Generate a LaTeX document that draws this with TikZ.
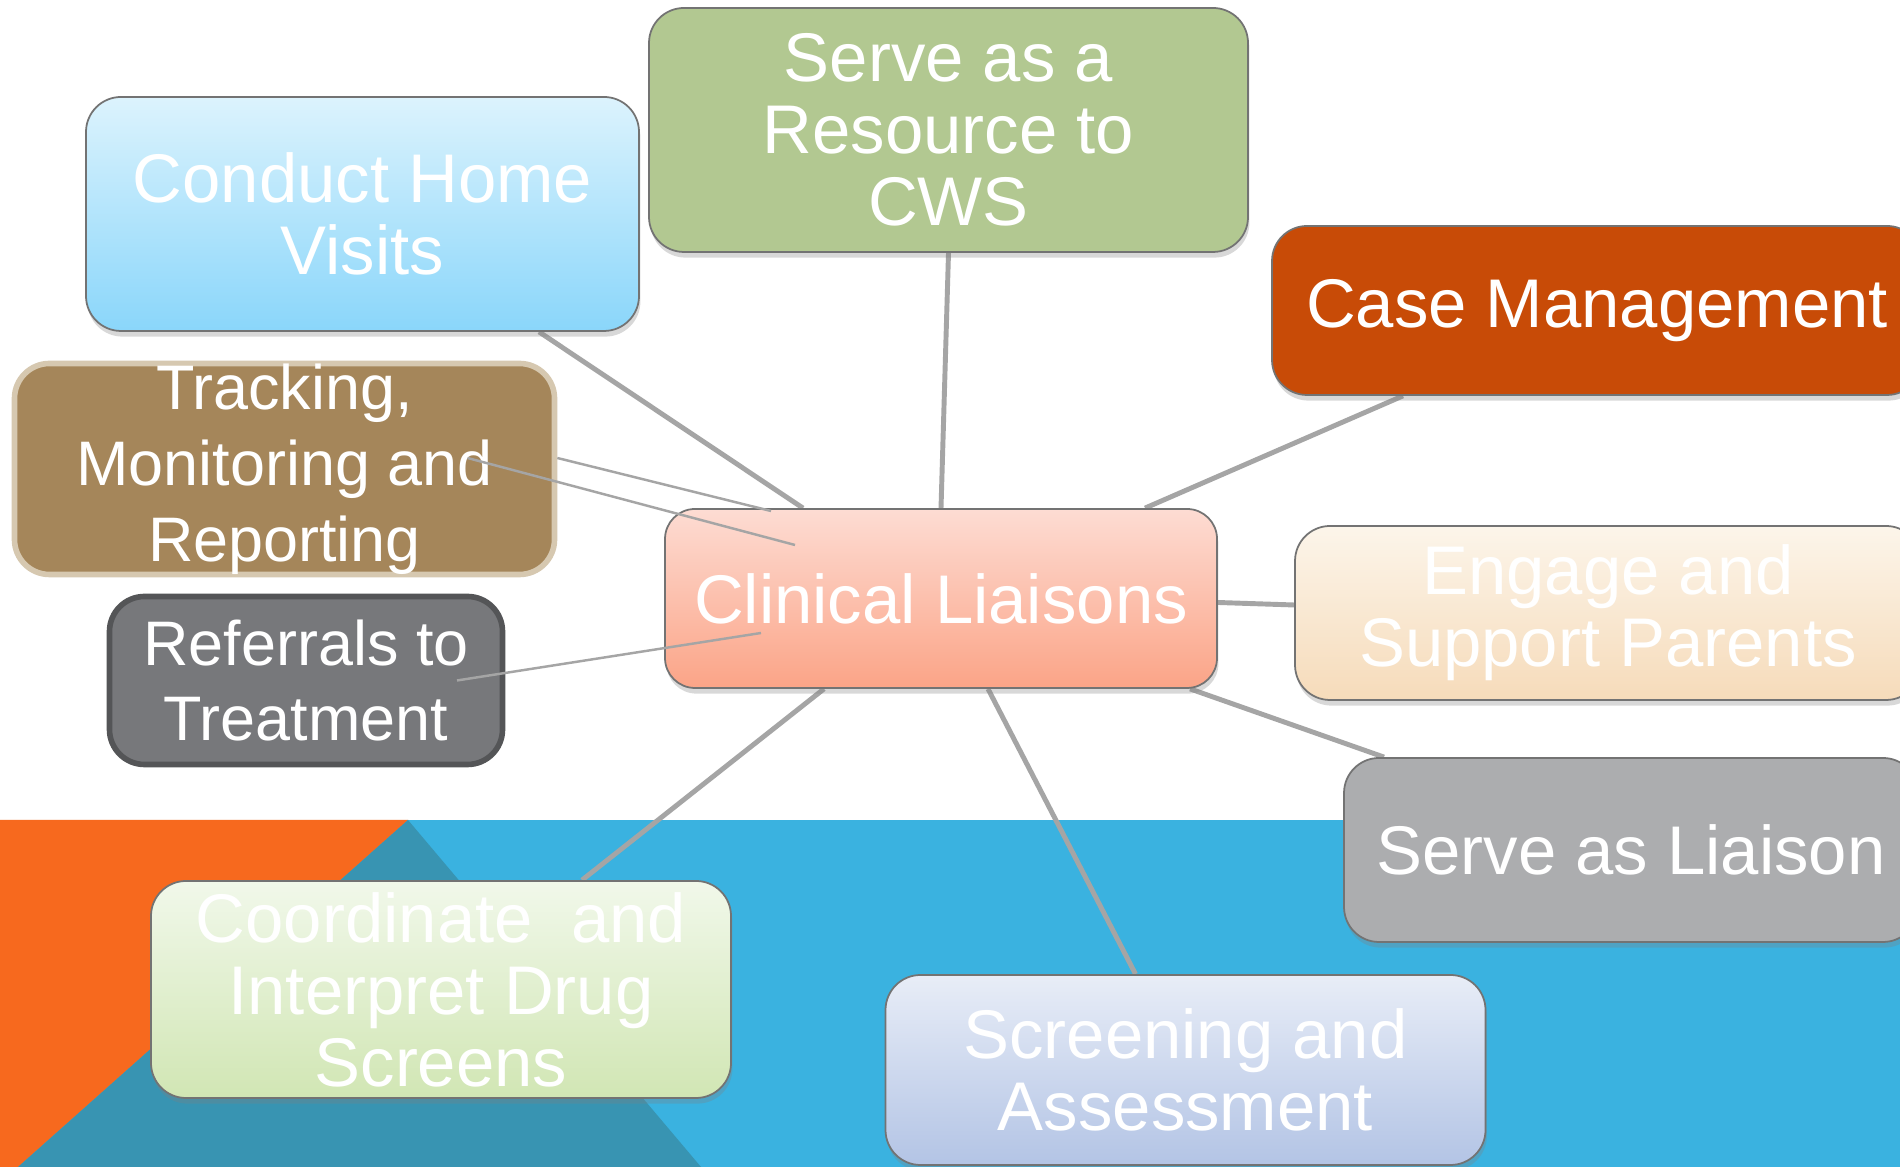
\documentclass[tikz,border=0pt]{standalone}
\usepackage{fontspec}
\setmainfont{Liberation Sans}
\usetikzlibrary{shadows,backgrounds}

\definecolor{bandorange}{HTML}{F7691E}
\definecolor{bandteal}{HTML}{3894B2}
\definecolor{bandblue}{HTML}{3AB2E0}
\definecolor{linkgray}{HTML}{A5A5A5}
\definecolor{homeTop}{HTML}{DCF3FD}
\definecolor{homeBot}{HTML}{8AD6FA}
\definecolor{resFill}{HTML}{B2C891}
\definecolor{caseFill}{HTML}{C84B07}
\definecolor{trackFill}{HTML}{A5865A}
\definecolor{trackLine}{HTML}{D6C8B0}
\definecolor{referFill}{HTML}{77787B}
\definecolor{referLine}{HTML}{545557}
\definecolor{clinTop}{HTML}{FDDCD3}
\definecolor{clinBot}{HTML}{FBA487}
\definecolor{engTop}{HTML}{FCF5EA}
\definecolor{engBot}{HTML}{F6DBBA}
\definecolor{liaiFill}{HTML}{ACADAF}
\definecolor{coordTop}{HTML}{F1F8EA}
\definecolor{coordBot}{HTML}{D1E6B4}
\definecolor{scrTop}{HTML}{E8EDF7}
\definecolor{scrBot}{HTML}{B3C4E5}

\begin{document}
\begin{tikzpicture}[
    box/.style={rounded corners=0.35cm, inner sep=0pt, align=center, text=white,
      font={\fontsize{19.6}{20.5}\selectfont}},
    lifted/.style={draw=black!55, line width=0.5pt,
      drop shadow={shadow xshift=0.4pt, shadow yshift=-1.6pt, opacity=0.3}},
    link/.style={draw=linkgray, line width=1.4pt},
    hairlink/.style={draw=linkgray, line width=0.7pt}
  ]
  \useasboundingbox (0,0) rectangle (19,11.67);

  % boxes
  \node[box, lifted, top color=homeTop, bottom color=homeBot, minimum width=5.53cm, minimum height=2.34cm] (home) at (3.625,9.53) {Conduct Home\\Visits};
  \node[box, lifted, fill=resFill, minimum width=5.99cm, minimum height=2.44cm] (res) at (9.485,10.37) {Serve as a\\Resource to\\CWS};
  \node[box, lifted, fill=caseFill, minimum width=6.5cm, minimum height=1.69cm] (case) at (15.97,8.565) {Case Management};
  \node[box, fill=trackFill, draw=trackLine, line width=1.6pt, minimum width=5.4cm, minimum height=2.11cm,
    font={\fontsize{17.9}{21.6}\selectfont}] (track) at (2.845,6.98) {Tracking,\\Monitoring and\\Reporting};
  \node[box, fill=referFill, draw=referLine, line width=1.6pt, minimum width=3.93cm, minimum height=1.68cm,
    font={\fontsize{17.9}{21.6}\selectfont}] (refer) at (3.06,4.865) {Referrals to\\Treatment};
  \node[box, lifted, rounded corners=0.3cm, top color=clinTop, bottom color=clinBot, minimum width=5.52cm, minimum height=1.79cm] (clin) at (9.41,5.685) {Clinical Liaisons};
  \node[box, lifted, top color=engTop, bottom color=engBot, minimum width=6.26cm, minimum height=1.74cm] (eng) at (16.08,5.54) {Engage and\\Support Parents};
  \node[box, lifted, fill=liaiFill, minimum width=5.74cm, minimum height=1.84cm] (liai) at (16.31,3.17) {Serve as Liaison};
  \node[box, lifted, top color=coordTop, bottom color=coordBot, minimum width=5.8cm, minimum height=2.17cm] (coord) at (4.41,1.775) {Coordinate\ \ and\\Interpret Drug\\Screens};
  \node[box, lifted, top color=scrTop, bottom color=scrBot, minimum width=6cm, minimum height=1.9cm] (scr) at (11.855,0.97) {Screening and\\Assessment};

  \begin{pgfonlayer}{background}
    % backdrop
    \fill[white] (0,0) rectangle (19,11.67);
    \fill[bandblue] (0,0) rectangle (19,3.47);
    \fill[bandorange] (0,0) -- (0,3.47) -- (4.08,3.47) -- (0.18,0) -- cycle;
    \fill[bandteal] (4.08,3.47) -- (0.18,0) -- (7.01,0) -- cycle;
    % connectors
    \draw[link] ([xshift=1.765cm]home.south) -- ([xshift=-1.38cm]clin.north);
    \draw[link] (res.south) -- (clin.north);
    \draw[link] ([xshift=-1.94cm]case.south) -- ([xshift=2.04cm]clin.north);
    \draw[link] ([yshift=-0.04cm]clin.east) -- ([yshift=0.08cm]eng.west);
    \draw[link] ([xshift=2.49cm]clin.south) -- ([xshift=-2.47cm]liai.north);
    \draw[link] ([xshift=0.47cm]clin.south) -- ([xshift=-0.5cm]scr.north);
    \draw[link] ([xshift=-1.17cm]clin.south) -- ([xshift=1.41cm]coord.north);
  \end{pgfonlayer}

  % thin lines over the boxes
  \draw[hairlink] ([yshift=0.11cm]track.east) -- ([xshift=-1.70cm, yshift=0.875cm]clin.center);
  \draw[hairlink] ([xshift=1.83cm, yshift=0.11cm]track.center) -- ([xshift=-1.46cm, yshift=0.535cm]clin.center);
  \draw[hairlink] ([xshift=1.51cm]refer.center) -- ([xshift=-1.80cm, yshift=-0.345cm]clin.center);
\end{tikzpicture}
\end{document}
